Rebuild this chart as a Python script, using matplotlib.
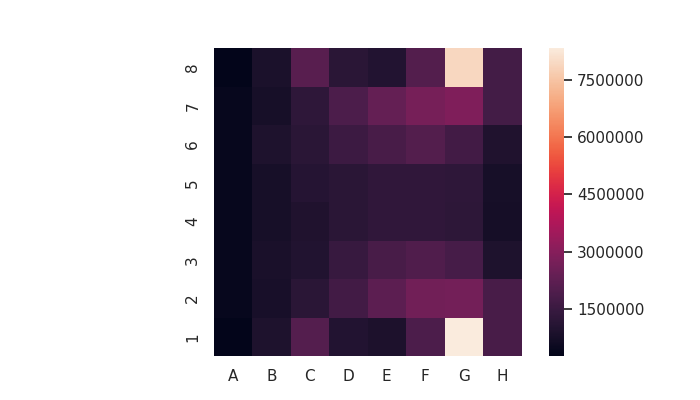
import matplotlib
matplotlib.use("Agg")
import matplotlib.pyplot as plt
import matplotlib.ticker as mticker
import seaborn as sns
import pandas as pd
import numpy as np

columns = ["A", "B", "C", "D", "E", "F", "G", "H"]
rows = ["8", "7", "6", "5", "4", "3", "2", "1"]

row8 = [260000, 830000, 2100000, 1150000, 1000000, 2000000, 7900000, 1700000]
row7 = [400000, 750000, 1250000, 1900000, 2350000, 2700000, 2850000, 1700000]
row6 = [400000, 900000, 1150000, 1550000, 1800000, 2000000, 1650000, 950000]
row5 = [400000, 750000, 1050000, 1150000, 1300000, 1300000, 1250000, 750000]
row4 = [400000, 750000, 950000, 1150000, 1300000, 1280000, 1220000, 720000]
row3 = [400000, 800000, 980000, 1450000, 1800000, 1950000, 1750000, 920000]
row2 = [400000, 780000, 1150000, 1650000, 2200000, 2600000, 2650000, 1800000]
row1 = [260000, 920000, 2050000, 1000000, 880000, 1900000, 8340000, 1800000]

cbar_ticks = [1500000, 3000000, 4500000, 6000000, 7500000]

sns.set_theme()
df = pd.DataFrame([row8, row7, row6, row5, row4, row3, row2, row1],
                  index=rows, columns=columns)

fig, ax = plt.subplots(figsize=(7, 4), dpi=100)
fig.patch.set_facecolor("white")
sns.heatmap(df, ax=ax, square=True,
            cbar_kws={"ticks": cbar_ticks,
                      "format": mticker.FuncFormatter(lambda v, p: f"{int(round(v))}")})
fig.savefig("out.png", dpi=100, facecolor="white")
